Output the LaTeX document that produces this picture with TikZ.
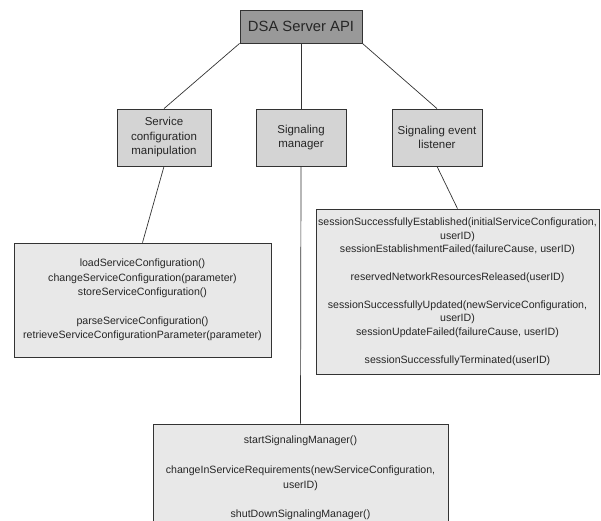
\documentclass[tikz,border=0pt]{standalone}
\usepackage{fontspec}
\setmainfont{Liberation Sans}
\begin{document}
\begin{tikzpicture}[x=1pt,y=-1pt,
  box/.style={draw=black!80, line width=0.8pt, rectangle, inner sep=0pt,
    align=center, text=black!85},
  apibox/.style={box, fill=black!40, font=\fontsize{14.8}{17}\selectfont},
  modbox/.style={box, fill=black!17, font=\fontsize{11.5}{14.5}\selectfont},
  listbox/.style={box, fill=black!9},
  link/.style={draw=black!80, line width=0.7pt}
]
\useasboundingbox (0,0) rectangle (601,520);
\clip (0,0) rectangle (601,520);

% top level
\node[apibox, minimum width=122pt, minimum height=33pt] (api) at (301,26.5) {DSA Server API};

% second level modules
\node[modbox, minimum width=94pt, minimum height=57pt] (svc) at (164,137.5)
  {Service\\configuration\\manipulation};
\node[modbox, minimum width=90pt, minimum height=57pt] (sig) at (301,137.5)
  {Signaling\\manager};
\node[modbox, minimum width=90pt, minimum height=57pt] (lis) at (437,137.5)
  {Signaling event\\listener};

% operation lists
\node[listbox, minimum width=257pt, minimum height=114pt,
  font=\fontsize{10.6}{14.4}\selectfont] (svcops) at (142.5,300)
  {loadServiceConfiguration()\\
   changeServiceConfiguration(parameter)\\
   storeServiceConfiguration()\\[14.4pt]
   parseServiceConfiguration()\\
   retrieveServiceConfigurationParameter(parameter)};

\node[listbox, minimum width=283pt, minimum height=165pt,
  font=\fontsize{10.6}{13.8}\selectfont] (lisops) at (457.5,291.5)
  {sessionSuccessfullyEstablished(initialServiceConfiguration,\\
   userID)\\
   sessionEstablishmentFailed(failureCause, userID)\\[13.8pt]
   reservedNetworkResourcesReleased(userID)\\[13.8pt]
   sessionSuccessfullyUpdated(newServiceConfiguration,\\
   userID)\\
   sessionUpdateFailed(failureCause, userID)\\[13.8pt]
   sessionSuccessfullyTerminated(userID)};

\node[listbox, minimum width=295pt, minimum height=108pt,
  font=\fontsize{10.6}{14.8}\selectfont] (sigops) at (300.5,478)
  {startSignalingManager()\\[14.8pt]
   changeInServiceRequirements(newServiceConfiguration,\\
   userID)\\[14.8pt]
   shutDownSignalingManager()};

% connectors
\draw[link] (api.south west) -- (svc.north);
\draw[link] (api.south) -- (sig.north);
\draw[link] (api.south east) -- (lis.north);
\draw[link] (svc.south) -- (svcops.north);
\draw[link] (sig.south) -- (sigops.north);
\draw[link] (lis.south) -- (lisops.north);
\end{tikzpicture}
\end{document}
